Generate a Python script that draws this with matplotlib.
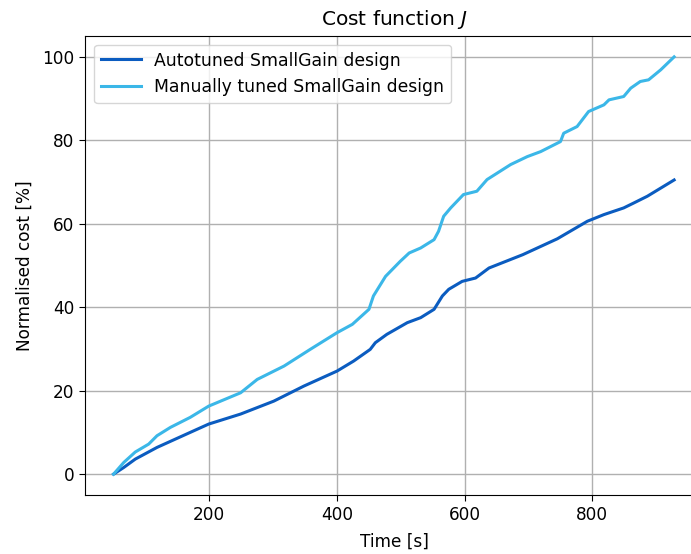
import matplotlib
matplotlib.use("Agg")
import matplotlib.pyplot as plt

# cumulative normalised cost over time, two tunings of the SmallGain controller
t_auto = [50, 66, 84, 118, 170, 199, 249, 301, 348, 400, 426, 452, 460, 478,
          510, 531, 552, 565, 575, 596, 617, 638, 691, 745, 792, 818, 849, 865,
          886, 928]
cost_auto = [0, 1.6, 3.6, 6.4, 10.0, 12.0, 14.4, 17.5, 21.1, 24.7, 27.1, 29.9,
             31.5, 33.5, 36.3, 37.5, 39.5, 42.7, 44.3, 46.2, 47.0, 49.4, 52.6,
             56.4, 60.6, 62.2, 63.8, 65.0, 66.6, 70.5]

t_manual = [50, 66, 84, 105, 118, 139, 170, 199, 249, 275, 317, 358, 400, 424,
            450, 457, 476, 499, 513, 531, 552, 559, 567, 578, 598, 619, 635, 672,
            698, 719, 750, 755, 776, 794, 818, 826, 849, 860, 875, 888, 907, 928]
cost_manual = [0, 2.8, 5.3, 7.2, 9.2, 11.2, 13.6, 16.3, 19.5, 22.7, 25.9, 29.9,
               33.9, 35.9, 39.5, 42.7, 47.4, 51.0, 53.0, 54.2, 56.2, 58.2, 61.8,
               63.8, 67.0, 67.8, 70.6, 74.2, 76.1, 77.3, 79.7, 81.7, 83.3, 86.9,
               88.5, 89.7, 90.5, 92.5, 94.1, 94.5, 96.9, 100.0]

plt.rcParams["font.size"] = 12.2

fig = plt.figure(figsize=(6.91, 5.54), dpi=100)
ax = fig.add_axes([0.1237, 0.1065, 0.8944, 0.8285])

ax.plot(t_auto, cost_auto, color="#0b5cc0", lw=2.2, label="Autotuned SmallGain design")
ax.plot(t_manual, cost_manual, color="#3bb7e8", lw=2.2, label="Manually tuned SmallGain design")

ax.set_xlim(6, 974)
ax.set_ylim(-5, 105)
ax.set_xticks([200, 400, 600, 800])
ax.set_yticks([0, 20, 40, 60, 80, 100])
ax.tick_params(length=4, pad=4)
ax.grid(True, color="#b0b0b0", lw=1.0)
ax.set_axisbelow(True)

ax.set_title("Cost function $J$", fontsize=14.5, pad=8)
ax.set_xlabel("Time [s]", labelpad=6)
ax.set_ylabel("Normalised cost [%]", labelpad=6)
ax.legend(loc="upper left", handlelength=2.3, fontsize=12.4)

fig.savefig("out.png", dpi=100)
